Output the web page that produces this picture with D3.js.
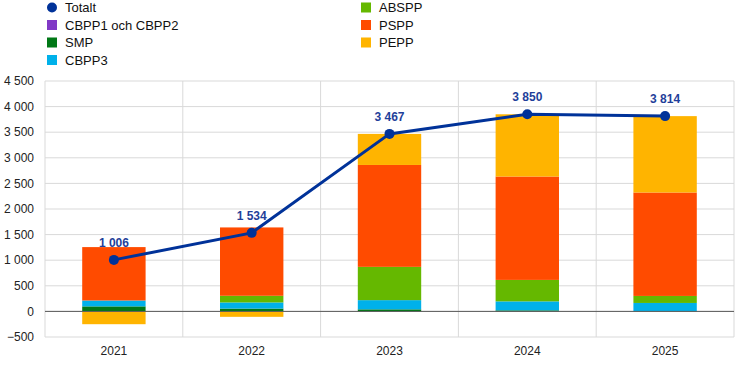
<!DOCTYPE html>
<html lang="sv">
<head>
<meta charset="UTF-8">
<script src="https://d3js.org/d3.v7.min.js"></script>
<style>
    body { margin: 0; background: #fff; }
    text { font-family: "Liberation Sans", Arial, sans-serif; }
</style>
</head>
<body>
<div id="chart"></div>
<script>
// data
const years = ["2021", "2022", "2023", "2024", "2025"];
const seriesNames = ["CBPP1 och CBPP2", "SMP", "CBPP3", "ABSPP", "PSPP", "PEPP"];
const seriesColors = ["#8139c6", "#007816", "#00b1ea", "#65b800", "#ff4b00", "#ffb400"];
const cbpp12 = [3, 0, 0, 0, 0];
const smp = [95, 55, 40, 20, 5];
const cbpp3 = [115, 120, 180, 176, 160];
const abspp = [0, 130, 650, 419, 137];
const pspp = [1043, 1335, 1990, 2019, 2020];
const pepp = [-250, -106, 607, 1216, 1492];
const totals = [1006, 1534, 3467, 3850, 3814];
const yTicks = [-500, 0, 500, 1000, 1500, 2000, 2500, 3000, 3500, 4000, 4500];

const W = 744, H = 371;
const margin = { top: 81, right: 10, bottom: 34, left: 45 };

const svg = d3.select("#chart").append("svg")
    .attr("width", W).attr("height", H);

const x = d3.scaleBand().domain(years).range([margin.left, W - margin.right]);
const y = d3.scaleLinear().domain([-500, 4500]).range([H - margin.bottom, margin.top]);

// grid
svg.append("g").selectAll("line.h")
    .data(yTicks)
    .enter().append("line")
    .attr("x1", margin.left).attr("x2", W - margin.right)
    .attr("y1", d => y(d)).attr("y2", d => y(d))
    .attr("stroke", "#d9d9d9").attr("stroke-width", 1);

svg.append("g").selectAll("line.v")
    .data(years.concat(["end"]))
    .enter().append("line")
    .attr("x1", (d, i) => i < years.length ? x(d) : x.range()[1])
    .attr("x2", (d, i) => i < years.length ? x(d) : x.range()[1])
    .attr("y1", y(4500)).attr("y2", y(-500))
    .attr("stroke", "#d9d9d9").attr("stroke-width", 1);

// y axis labels
const fmt = v => d3.format(",")(v).replace(/,/g, "\u00a0");
svg.append("g").selectAll("text")
    .data(yTicks)
    .enter().append("text")
    .attr("x", 34).attr("y", d => y(d))
    .attr("dy", "0.35em")
    .attr("text-anchor", "end")
    .style("font-size", "12px")
    .style("fill", "#222")
    .text(d => fmt(d));

// stacked bars
const rows = years.map((yr, i) => ({
    year: yr,
    "CBPP1 och CBPP2": cbpp12[i], "SMP": smp[i], "CBPP3": cbpp3[i],
    "ABSPP": abspp[i], "PSPP": pspp[i], "PEPP": pepp[i]
}));
const stack = d3.stack().keys(seriesNames).offset(d3.stackOffsetDiverging);
const layers = stack(rows);
const barW = x.bandwidth() * 0.46;

svg.append("g").selectAll("g")
    .data(layers)
    .enter().append("g")
    .attr("fill", (d, i) => seriesColors[i])
    .selectAll("rect")
    .data(d => d)
    .enter().append("rect")
    .attr("x", d => x(d.data.year) + (x.bandwidth() - barW) / 2)
    .attr("width", barW)
    .attr("y", d => y(Math.max(d[0], d[1])))
    .attr("height", d => Math.abs(y(d[0]) - y(d[1])));

// zero line
svg.append("line")
    .attr("x1", margin.left).attr("x2", W - margin.right)
    .attr("y1", y(0)).attr("y2", y(0))
    .attr("stroke", "#595959").attr("stroke-width", 1);

// x labels
svg.append("g").selectAll("text")
    .data(years)
    .enter().append("text")
    .attr("x", d => x(d) + x.bandwidth() / 2)
    .attr("y", 355)
    .attr("text-anchor", "middle")
    .style("font-size", "12px")
    .style("fill", "#222")
    .text(d => d);

// total line
const line = d3.line()
    .x((d, i) => x(years[i]) + x.bandwidth() / 2)
    .y(d => y(d));
svg.append("path")
    .datum(totals)
    .attr("d", line)
    .attr("fill", "none")
    .attr("stroke", "#003299")
    .attr("stroke-width", 3);

svg.append("g").selectAll("circle")
    .data(totals)
    .enter().append("circle")
    .attr("cx", (d, i) => x(years[i]) + x.bandwidth() / 2)
    .attr("cy", d => y(d))
    .attr("r", 5)
    .attr("fill", "#003299");

svg.append("g").selectAll("text")
    .data(totals)
    .enter().append("text")
    .attr("x", (d, i) => x(years[i]) + x.bandwidth() / 2)
    .attr("y", d => y(d) - 13)
    .attr("text-anchor", "middle")
    .style("font-size", "12px")
    .style("font-weight", "bold")
    .style("fill", "#1f3f9a")
    .text(d => fmt(d));

// legend
const legendItems = [
    { name: "Totalt", color: "#003299", circle: true, col: 0, row: 0 },
    { name: "CBPP1 och CBPP2", color: seriesColors[0], col: 0, row: 1 },
    { name: "SMP", color: seriesColors[1], col: 0, row: 2 },
    { name: "CBPP3", color: seriesColors[2], col: 0, row: 3 },
    { name: "ABSPP", color: seriesColors[3], col: 1, row: 0 },
    { name: "PSPP", color: seriesColors[4], col: 1, row: 1 },
    { name: "PEPP", color: seriesColors[5], col: 1, row: 2 }
];
const lg = svg.append("g").selectAll("g")
    .data(legendItems)
    .enter().append("g")
    .attr("transform", d => `translate(${d.col ? 366 : 52},${7.5 + d.row * 17.5})`);
lg.filter(d => d.circle).append("circle")
    .attr("r", 5).attr("fill", d => d.color);
lg.filter(d => !d.circle).append("rect")
    .attr("x", -5).attr("y", -5).attr("width", 10).attr("height", 10)
    .attr("fill", d => d.color);
lg.append("text")
    .attr("x", 13).attr("dy", "0.35em")
    .style("font-size", "13px")
    .style("fill", "#111")
    .text(d => d.name);
</script>
</body>
</html>
